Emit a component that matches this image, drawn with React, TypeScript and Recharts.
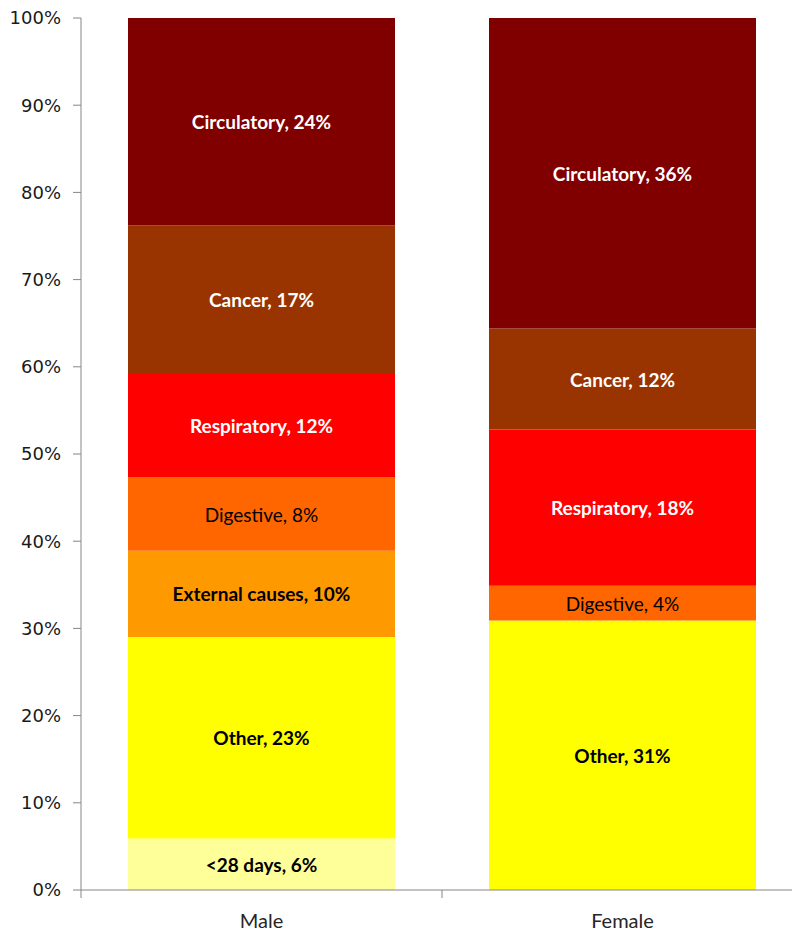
import React from 'react';
import { BarChart, Bar, XAxis, YAxis, LabelList } from 'recharts';

const categories = ['Male', 'Female'];

// Cause groups, bottom of the stack first
const causes = ['<28 days', 'Other', 'External causes', 'Digestive', 'Respiratory', 'Cancer', 'Circulatory'];

// Share of deaths (%) per cause, [Male, Female]
const neonatal = [5.9, 0];
const other = [23.1, 30.9];
const external = [9.9, 0];
const digestive = [8.4, 4.0];
const respiratory = [12.0, 17.9];
const cancer = [16.9, 11.6];
const circulatory = [23.8, 35.6];

const yTicks = [0, 10, 20, 30, 40, 50, 60, 70, 80, 90, 100];

const seriesValues = [neonatal, other, external, digestive, respiratory, cancer, circulatory];
const fills = ['#FFFF99', '#FFFF00', '#FF9900', '#FF6600', '#FF0000', '#993300', '#800000'];
const labelColors = ['#000000', '#000000', '#000000', '#000000', '#FFFFFF', '#FFFFFF', '#FFFFFF'];
const labelWeights = [700, 700, 700, 400, 700, 700, 700];

const data = categories.map((category, i) => {
  const row: Record<string, string | number> = { category };
  causes.forEach((cause, j) => {
    row[cause] = seriesValues[j][i];
  });
  return row;
});

const AXIS_COLOR = '#868686';

const makeSegmentLabel = (name: string, color: string, weight: number) => (props: any) => {
  const { x, y, width, height, value } = props;
  if (!value) return null;
  return (
    <text
      x={Number(x) + Number(width) / 2}
      y={Number(y) + Number(height) / 2}
      textAnchor="middle"
      dominantBaseline="central"
      fill={color}
      fontFamily="Lato, 'Open Sans', sans-serif"
      fontWeight={weight}
      fontSize={19}
    >
      {`${name}, ${Math.round(value)}%`}
    </text>
  );
};

// Category label with the tick mark placed on the band boundary
const CategoryTick = (props: any) => {
  const { x, y, payload } = props;
  const edge = x - (payload.offset || 0);
  return (
    <g>
      <line x1={edge} y1={y} x2={edge} y2={y + 8} stroke={AXIS_COLOR} strokeWidth={1} />
      <text
        x={x}
        y={y + 30}
        textAnchor="middle"
        dominantBaseline="central"
        fill="#262626"
        fontFamily="Lato, 'Open Sans', sans-serif"
        fontSize={20}
      >
        {payload.value}
      </text>
    </g>
  );
};

export default function App() {
  return (
    <div
      style={{
        position: 'absolute',
        left: 0,
        top: 0,
        width: 792,
        height: 934,
        overflow: 'hidden',
        background: '#ffffff',
      }}
    >
      <BarChart
        width={811}
        height={934}
        data={data}
        margin={{ top: 18, right: 8, bottom: 4, left: 0 }}
        barCategoryGap={47}
      >
        <XAxis
          dataKey="category"
          height={40}
          axisLine={{ stroke: AXIS_COLOR }}
          tickLine={false}
          tickSize={0}
          tickMargin={0}
          tick={<CategoryTick />}
          interval={0}
        />
        <YAxis
          type="number"
          domain={[0, 100]}
          ticks={yTicks}
          width={81}
          interval={0}
          axisLine={{ stroke: AXIS_COLOR }}
          tickLine={{ stroke: AXIS_COLOR }}
          tickSize={8}
          tickMargin={12}
          tickFormatter={(v: number) => `${v}%`}
          tick={{ fill: '#1a1a1a', fontSize: 18, fontFamily: "'DejaVu Sans', Verdana, sans-serif" }}
        />
        {causes.map((cause, j) => (
          <Bar
            key={cause}
            dataKey={cause}
            stackId="deaths"
            fill={fills[j]}
            isAnimationActive={false}
          >
            <LabelList
              dataKey={cause}
              content={makeSegmentLabel(cause, labelColors[j], labelWeights[j])}
            />
          </Bar>
        ))}
      </BarChart>
    </div>
  );
}
